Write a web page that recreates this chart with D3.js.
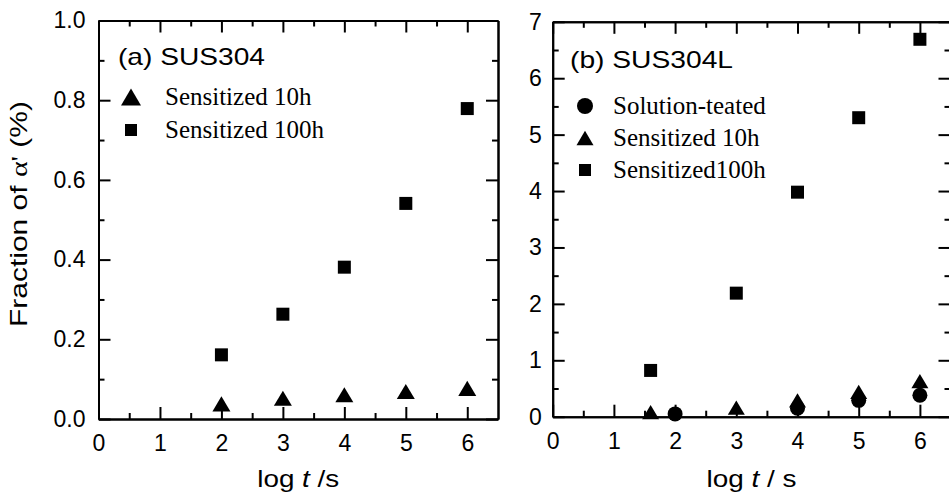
<!DOCTYPE html>
<html>
<head>
<meta charset="utf-8">
<script src="https://cdn.jsdelivr.net/npm/d3@7"></script>
<style>
  body { margin: 0; background: #fff; }
  svg { display: block; }
  .axis path, .axis line { stroke: #000; stroke-width: 2; }
  .axis text { font-family: "Liberation Sans", Arial, sans-serif; font-size: 23px; fill: #000; }
  .legTxt { font-family: "Liberation Serif", "Times New Roman", serif; font-size: 25px; fill: #000; }
  .ttl { font-family: "Liberation Sans", Arial, sans-serif; font-size: 24px; fill: #000; }
</style>
</head>
<body>
<div id="chart"></div>
<script>
// panel (a) SUS304
var aTimes = [2, 3, 4, 5, 6];
var aSens10 = [0.038, 0.052, 0.061, 0.069, 0.077];
var aSens100 = [0.161, 0.263, 0.381, 0.541, 0.779];
var aYTicks = [0, 0.2, 0.4, 0.6, 0.8, 1.0];
var aYMinor = [0.1, 0.3, 0.5, 0.7, 0.9];

// panel (b) SUS304L
var bSolTimes = [2, 4, 5, 6];
var bSolution = [0.05, 0.15, 0.29, 0.38];
var bTimes = [1.6, 3, 4, 5, 6];
var bSens10 = [0.08, 0.16, 0.29, 0.44, 0.63];
var bSens100 = [0.82, 2.19, 3.98, 5.30, 6.69];
var bYTicks = [0, 1, 2, 3, 4, 5, 6, 7];
var bYMinor = [0.5, 1.5, 2.5, 3.5, 4.5, 5.5, 6.5];

var xTicks = [0, 1, 2, 3, 4, 5, 6];
var xMinor = [0.5, 1.5, 2.5, 3.5, 4.5, 5.5];

var W = 949, H = 498;
var svg = d3.select("#chart").append("svg").attr("width", W).attr("height", H);

function triPath(w, h) {
  return "M0," + (-h / 2) + "L" + (w / 2) + "," + (h / 2) + "L" + (-w / 2) + "," + (h / 2) + "Z";
}
function marker(g, kind, size) {
  if (kind == "tri") return g.append("path").attr("d", triPath(size, size * 0.84));
  if (kind == "sq") return g.append("path").attr("d", d3.symbol(d3.symbolSquare, size * size)());
  return g.append("path").attr("d", d3.symbol(d3.symbolCircle, Math.PI * size * size / 4)());
}

function drawPanel(p) {
  var x = d3.scaleLinear().domain([0, 6.5]).range([p.x0, p.x1]);
  var y = d3.scaleLinear().domain([0, p.yMax]).range([p.y0, p.y1]);
  var g = svg.append("g");

  // minor ticks first
  g.append("g").attr("class", "axis").attr("transform", "translate(0," + p.y0 + ")")
    .call(d3.axisBottom(x).tickValues(xMinor).tickSizeInner(-6).tickSizeOuter(0).tickFormat(""));
  g.append("g").attr("class", "axis").attr("transform", "translate(0," + p.y1 + ")")
    .call(d3.axisTop(x).tickValues(xMinor).tickSizeInner(-6).tickSizeOuter(0).tickFormat(""));
  g.append("g").attr("class", "axis").attr("transform", "translate(" + p.x0 + ",0)")
    .call(d3.axisLeft(y).tickValues(p.yMinor).tickSizeInner(-6).tickSizeOuter(0).tickFormat(""));
  g.append("g").attr("class", "axis").attr("transform", "translate(" + p.x1 + ",0)")
    .call(d3.axisRight(y).tickValues(p.yMinor).tickSizeInner(-6).tickSizeOuter(0).tickFormat(""));

  // major ticks + labels
  g.append("g").attr("class", "axis").attr("transform", "translate(0," + p.y0 + ")")
    .call(d3.axisBottom(x).tickValues(xTicks).tickSizeInner(-12).tickSizeOuter(0).tickPadding(16).tickFormat(d3.format("d")));
  g.append("g").attr("class", "axis").attr("transform", "translate(0," + p.y1 + ")")
    .call(d3.axisTop(x).tickValues(xTicks).tickSizeInner(-12).tickSizeOuter(0).tickFormat(""));
  g.append("g").attr("class", "axis").attr("transform", "translate(" + p.x0 + ",0)")
    .call(d3.axisLeft(y).tickValues(p.yTicks).tickSizeInner(-12).tickSizeOuter(0).tickPadding(p.yPad).tickFormat(p.yFmt));
  g.append("g").attr("class", "axis").attr("transform", "translate(" + p.x1 + ",0)")
    .call(d3.axisRight(y).tickValues(p.yTicks).tickSizeInner(-12).tickSizeOuter(0).tickFormat(""));

  // data
  p.series.forEach(function (s) {
    s.vals.forEach(function (v, i) {
      var m = g.append("g").attr("transform", "translate(" + x(s.xs[i]) + "," + y(v) + ")");
      marker(m, s.kind, s.size);
    });
  });

  // title
  g.append("text").attr("class", "ttl").attr("x", p.titleX).attr("y", p.titleY)
    .attr("textLength", p.titleLen).attr("lengthAdjust", "spacingAndGlyphs").text(p.title);

  // legend
  p.series.forEach(function (s, i) {
    var ly = p.legY + i * p.legStep;
    var m = g.append("g").attr("transform", "translate(" + p.legMx + "," + (ly - 8) + ")");
    marker(m, s.kind, s.legSize);
    g.append("text").attr("class", "legTxt").attr("x", p.legTx).attr("y", ly).text(s.label);
  });

  // x label
  var xl = g.append("text").attr("class", "ttl").attr("text-anchor", "middle")
    .attr("x", (p.x0 + p.x1) / 2).attr("y", 487)
    .attr("textLength", p.xlabLen).attr("lengthAdjust", "spacingAndGlyphs");
  xl.append("tspan").text("log ");
  xl.append("tspan").attr("font-style", "italic").text("t");
  xl.append("tspan").text(p.xlabTail);
}

drawPanel({
  x0: 98.5, x1: 498, y0: 419, y1: 20.5, yMax: 1.0,
  yTicks: aYTicks, yMinor: aYMinor, yPad: 13, yFmt: d3.format(".1f"),
  title: "(a) SUS304", titleX: 118, titleY: 65, titleLen: 147,
  legMx: 131, legTx: 165, legY: 105, legStep: 33,
  xlabLen: 82, xlabTail: " /s",
  series: [
    { label: "Sensitized 10h", kind: "tri", size: 18, legSize: 20, xs: aTimes, vals: aSens10 },
    { label: "Sensitized 100h", kind: "sq", size: 13, legSize: 12, xs: aTimes, vals: aSens100 }
  ]
});

drawPanel({
  x0: 552.7, x1: 950.5, y0: 416.7, y1: 21.8, yMax: 7,
  yTicks: bYTicks, yMinor: bYMinor, yPad: 11, yFmt: d3.format("d"),
  title: "(b) SUS304L", titleX: 570, titleY: 68, titleLen: 163,
  legMx: 585, legTx: 613, legY: 114, legStep: 32,
  xlabLen: 90, xlabTail: " / s",
  series: [
    { label: "Solution-teated", kind: "circ", size: 15, legSize: 16, xs: bSolTimes, vals: bSolution },
    { label: "Sensitized 10h", kind: "tri", size: 17, legSize: 17, xs: bTimes, vals: bSens10 },
    { label: "Sensitized100h", kind: "sq", size: 13, legSize: 12, xs: bTimes, vals: bSens100 }
  ]
});

// y label of panel (a)
var yl = svg.append("text").attr("class", "ttl").attr("text-anchor", "middle")
  .attr("transform", "translate(27,214) rotate(-90)")
  .attr("textLength", 226).attr("lengthAdjust", "spacingAndGlyphs");
yl.append("tspan").text("Fraction of ");
yl.append("tspan").attr("font-family", "Liberation Serif, serif").text("\u03b1'");
yl.append("tspan").text(" (%)");
</script>
</body>
</html>
